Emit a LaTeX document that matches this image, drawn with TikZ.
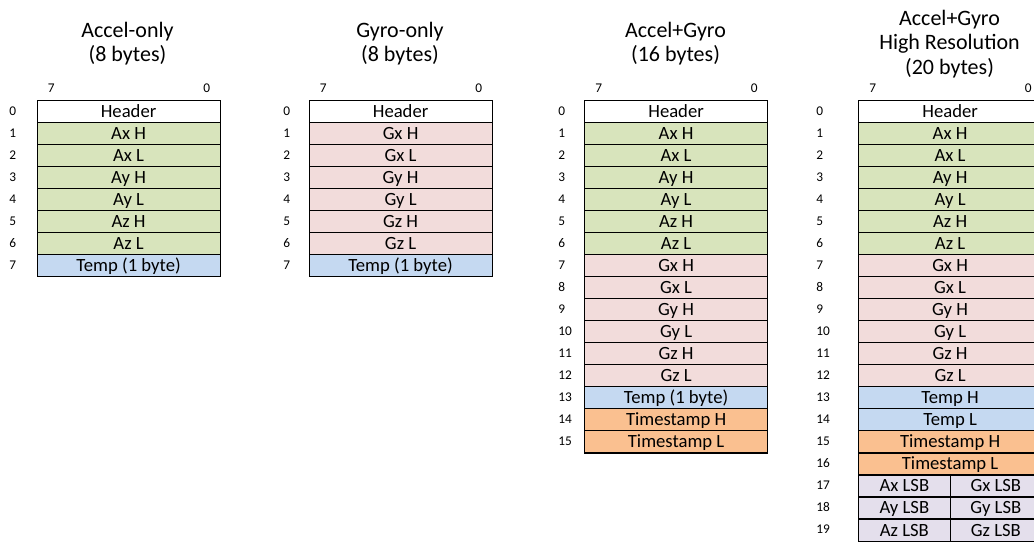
\documentclass[tikz,border=0pt]{standalone}
\usepackage{fontspec}
\setmainfont{Carlito}
\definecolor{cgreen}{HTML}{D8E4BC}
\definecolor{cpink}{HTML}{F2DCDB}
\definecolor{cblue}{HTML}{C5D9F1}
\definecolor{corange}{HTML}{FAC090}
\definecolor{cpurple}{HTML}{E4DFEC}
\tikzset{
  cell/.style={draw=black, line width=0.9pt, minimum width=137.25pt, minimum height=16.54pt,
    inner sep=0pt, anchor=north west, text height=8.9pt, text depth=0pt,
    font=\fontsize{14}{16}\selectfont},
  halfcell/.style={cell, minimum width=68.625pt},
  idx/.style={anchor=base west, inner sep=0pt, font=\fontsize{10}{12}\selectfont},
  bitlab/.style={inner sep=0pt, font=\fontsize{10}{12}\selectfont},
  ttl/.style={anchor=base, inner sep=0pt, font=\fontsize{16.5}{19}\selectfont}
}
\newcommand\drawtab[4]{%
  \foreach \lab/\col [count=\i from 0] in {#4} {
    \node[cell, fill=\col] (#1r\i) at ({#2},{99.5+22.05*\i}) {\lab};
    \node[idx] (#1i\i) at ({#3},{99.5+22.05*\i+15.5}) {\i};
  }
  \node[bitlab, anchor=base west] (#1b7) at ({#2+11},93) {7};
  \node[bitlab, anchor=base east] (#1b0) at ({#2+183-9},93) {0};
}
\begin{document}
\begin{tikzpicture}[x=0.75pt,y=-0.75pt]
\useasboundingbox (0,0) rectangle (1034,542);
% Table 1
\node[ttl] (t1a) at (127.5,37.5) {Accel-only};
\node[ttl] (t1b) at (127.5,61.5) {(8 bytes)};
\drawtab{ta}{36.5}{9}{Header/white, Ax H/cgreen, Ax L/cgreen, Ay H/cgreen, Ay L/cgreen, Az H/cgreen, Az L/cgreen, {Temp (1 byte)}/cblue}
% Table 2
\node[ttl] (t2a) at (400,37.5) {Gyro-only};
\node[ttl] (t2b) at (400,61.5) {(8 bytes)};
\drawtab{tb}{308.5}{283}{Header/white, Gx H/cpink, Gx L/cpink, Gy H/cpink, Gy L/cpink, Gz H/cpink, Gz L/cpink, {Temp (1 byte)}/cblue}
% Table 3
\node[ttl] (t3a) at (675.5,37.5) {Accel+Gyro};
\node[ttl] (t3b) at (675.5,61.5) {(16 bytes)};
\drawtab{tc}{584}{558}{Header/white, Ax H/cgreen, Ax L/cgreen, Ay H/cgreen, Ay L/cgreen, Az H/cgreen, Az L/cgreen, Gx H/cpink, Gx L/cpink, Gy H/cpink, Gy L/cpink, Gz H/cpink, Gz L/cpink, {Temp (1 byte)}/cblue, Timestamp H/corange, Timestamp L/corange}
% Table 4
\node[ttl] (t4a) at (949.5,26) {Accel+Gyro};
\node[ttl] (t4b) at (949.5,50) {High Resolution};
\node[ttl] (t4c) at (949.5,74.5) {(20 bytes)};
\drawtab{td}{858}{816}{Header/white, Ax H/cgreen, Ax L/cgreen, Ay H/cgreen, Ay L/cgreen, Az H/cgreen, Az L/cgreen, Gx H/cpink, Gx L/cpink, Gy H/cpink, Gy L/cpink, Gz H/cpink, Gz L/cpink, Temp H/cblue, Temp L/cblue, Timestamp H/corange, Timestamp L/corange}
\foreach \la/\lb [count=\j from 17] in {Ax LSB/Gx LSB, Ay LSB/Gy LSB, Az LSB/Gz LSB} {
  \node[halfcell, fill=cpurple] (tdr\j a) at (858,{99.5+22.05*\j}) {\la};
  \node[halfcell, fill=cpurple] (tdr\j b) at (949.5,{99.5+22.05*\j}) {\lb};
  \node[idx] (tdi\j) at (816,{99.5+22.05*\j+15.5}) {\j};
}
\end{tikzpicture}
\end{document}
